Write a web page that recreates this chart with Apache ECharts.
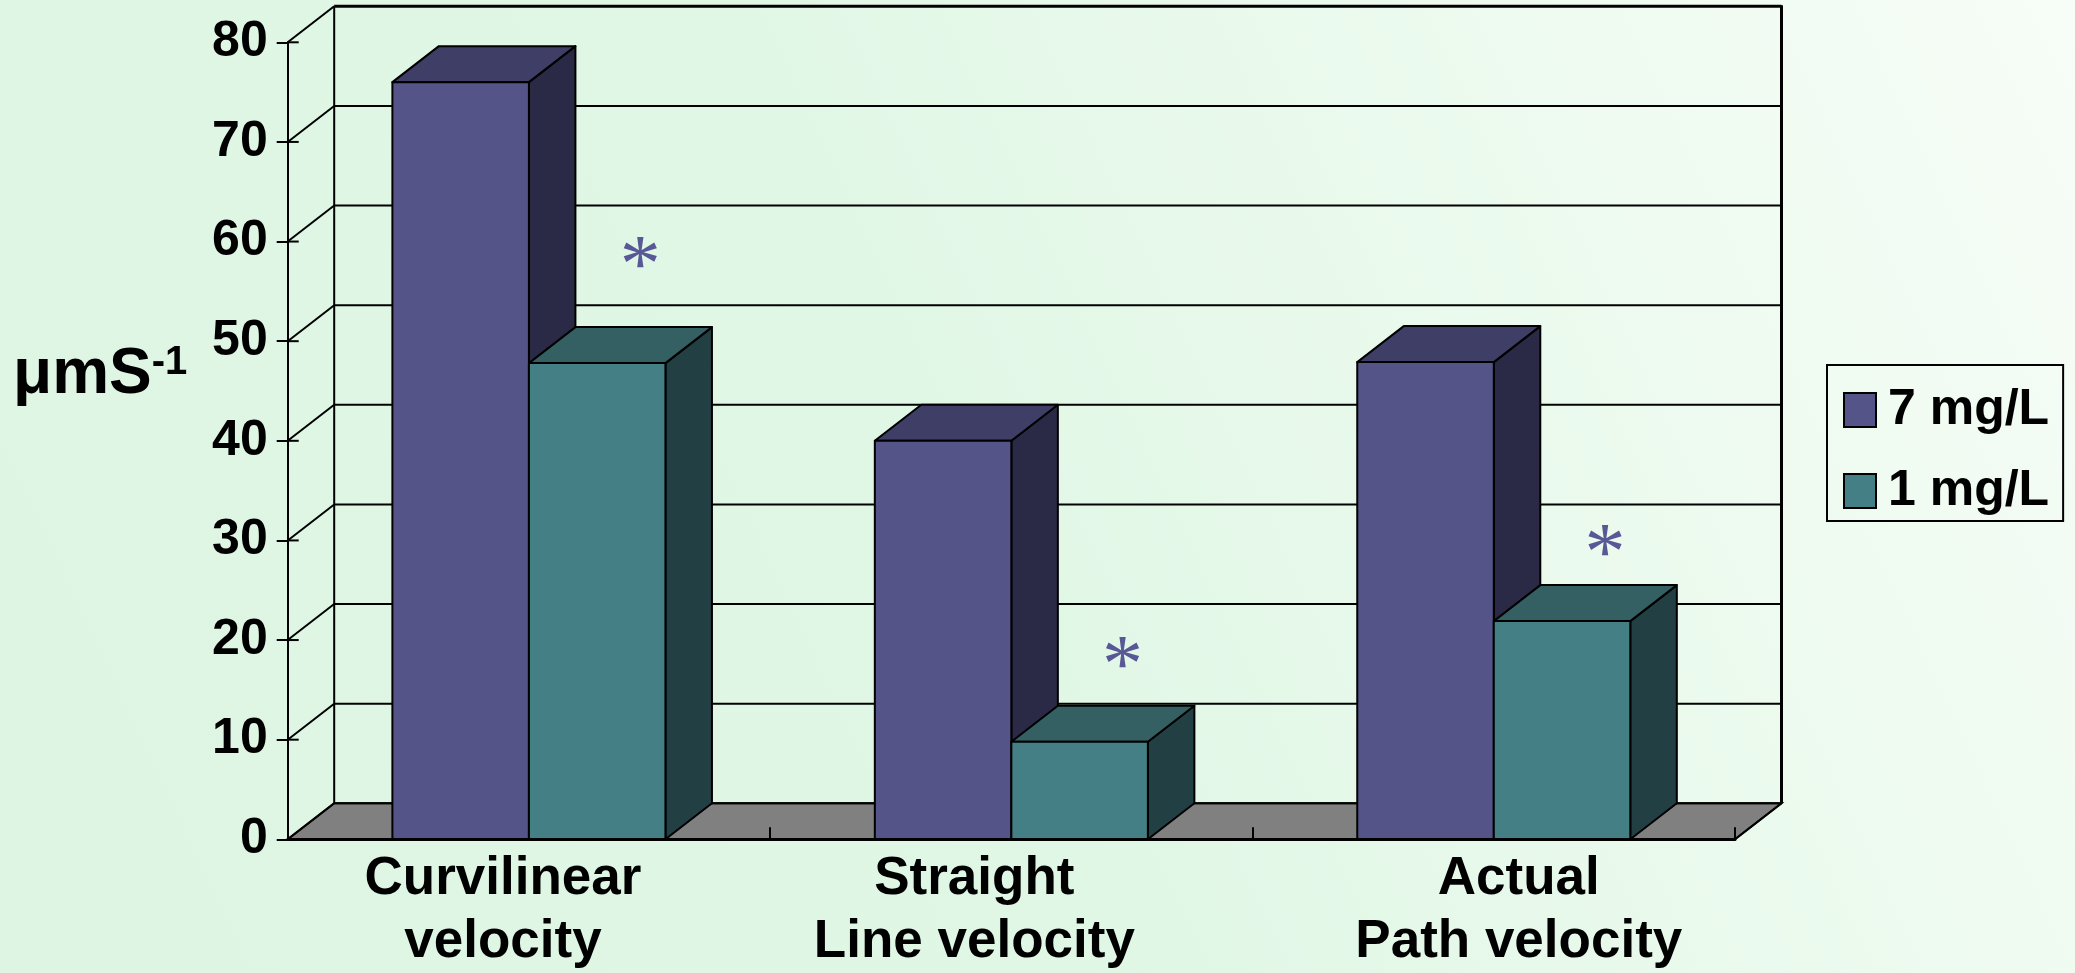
<!DOCTYPE html>
<html>
<head>
<meta charset="utf-8">
<title>Sperm velocity</title>
<script src="https://cdn.jsdelivr.net/npm/echarts@6/dist/echarts.min.js"></script>
<style>
  html, body { margin: 0; padding: 0; background: #e2f8e7; }
  #chart { width: 2075px; height: 973px; }
</style>
</head>
<body>
<div id="chart"></div>
<script>
// ---- data ----
const categories = ['Curvilinear\nvelocity', 'Straight\nLine velocity', 'Actual\nPath velocity'];
const seriesNames = ['7 mg/L', '1 mg/L'];
const values7mg = [76, 40, 47.9];
const values1mg = [47.8, 9.8, 21.9];
// significance markers (*) placed above the 1 mg/L columns
const starLevels = [58.8, 18.7, 29.9];
const yTicks = [0, 10, 20, 30, 40, 50, 60, 70, 80];

// ---- pseudo-3D geometry and styling ----
const DX = 46.5;          // depth offset to the right
const DY = -36;           // depth offset upwards
const BAR_RATIO = 0.283;  // column width as a share of the category band
const FONT = '"Liberation Sans", Arial, sans-serif';
const faces = [
  { front: '#545488', top: '#3e3e66', side: '#2a2a46' },
  { front: '#437f84', top: '#346064', side: '#224043' }
];
// horizontal nudge of each category caption (px)
const captionPad = [[0, 52, 0, 0], [0, 74, 0, 0], [0, 0, 0, 50]];

function line(x1, y1, x2, y2, w) {
  return { type: 'line', shape: { x1, y1, x2, y2 }, style: { stroke: '#000', lineWidth: w || 2 } };
}

// floor, back wall and left wall with their gridlines
function renderWalls(params, api) {
  const cs = params.coordSys;
  const xL = cs.x, xR = cs.x + cs.width;
  const y0 = api.coord([0, yTicks[0]])[1];
  const yTop = api.coord([0, yTicks[yTicks.length - 1]])[1];
  const children = [];
  children.push({
    type: 'polygon',
    shape: { points: [[xL, y0], [xR, y0], [xR + DX, y0 + DY], [xL + DX, y0 + DY]] },
    style: { fill: '#808080', stroke: '#000', lineWidth: 2 }
  });
  yTicks.forEach(function (v, i) {
    const y = api.coord([0, v])[1];
    const last = i === yTicks.length - 1;
    children.push(line(xL + DX, y + DY, xR + DX, y + DY, last ? 3 : 2));
    children.push(line(xL, y, xL + DX, y + DY, 2));
    children.push(line(xL, y, xL + 11, y, 2));
  });
  children.push(line(xL + DX, yTop + DY, xL + DX, y0 + DY, 2));
  children.push(line(xR + DX, yTop + DY - 1, xR + DX, y0 + DY, 3));
  children.push(line(xR, y0, xR + DX, y0 + DY, 2));
  return { type: 'group', children: children };
}

function makeBarRenderer(idx) {
  const c = faces[idx];
  return function (params, api) {
    const cat = api.value(0), val = api.value(1);
    const base = api.coord([cat, 0]);
    const top = api.coord([cat, val]);
    const w = api.size([1, 0])[0] * BAR_RATIO;
    const x0 = idx === 0 ? base[0] - w : base[0];
    const x1 = x0 + w;
    const yb = base[1], yt = top[1];
    const st = { stroke: '#000', lineWidth: 2, lineJoin: 'round' };
    return {
      type: 'group',
      children: [
        { type: 'polygon', shape: { points: [[x1, yt], [x1 + DX, yt + DY], [x1 + DX, yb + DY], [x1, yb]] },
          style: Object.assign({ fill: c.side }, st) },
        { type: 'polygon', shape: { points: [[x0, yt], [x0 + DX, yt + DY], [x1 + DX, yt + DY], [x1, yt]] },
          style: Object.assign({ fill: c.top }, st) },
        { type: 'rect', shape: { x: x0, y: yt, width: w, height: yb - yt },
          style: Object.assign({ fill: c.front }, st) }
      ]
    };
  };
}

function renderStar(params, api) {
  const p = api.coord([api.value(0), api.value(1)]);
  const w = api.size([1, 0])[0] * BAR_RATIO;
  return {
    type: 'text',
    x: p[0] + w / 2 + 43,
    y: p[1] + 16,
    style: {
      text: '*', fill: '#585896', fontSize: 82, fontFamily: '"Liberation Serif", "Times New Roman", serif',
      align: 'center', verticalAlign: 'middle'
    }
  };
}

const rich = {};
captionPad.forEach(function (pad, i) {
  rich['c' + i] = { fontSize: 53, fontWeight: 'bold', fontFamily: FONT, color: '#000', lineHeight: 63, padding: pad };
});

const chart = echarts.init(document.getElementById('chart'), null, { renderer: 'canvas' });
chart.setOption({
  animation: false,
  backgroundColor: {
    type: 'linear', x: 0, y: 1, x2: 1, y2: 0,
    colorStops: [
      { offset: 0, color: '#ddf5e2' },
      { offset: 0.45, color: '#e0f7e5' },
      { offset: 1, color: '#f7fdf7' }
    ]
  },
  title: {
    text: '{a|μmS}{b|-1}',
    left: 13, top: 343, padding: 0,
    textStyle: {
      rich: {
        a: { fontSize: 64, fontWeight: 'bold', fontFamily: FONT, color: '#000', lineHeight: 64, verticalAlign: 'middle' },
        b: { fontSize: 40, fontWeight: 'bold', fontFamily: FONT, color: '#000', lineHeight: 40, verticalAlign: 'top' }
      }
    }
  },
  legend: {
    orient: 'vertical',
    left: 1827, top: 365,
    padding: [20, 14, 5, 16],
    itemWidth: 32, itemHeight: 34, itemGap: 31,
    borderColor: '#000', borderWidth: 2,
    selectedMode: false,
    textStyle: { fontSize: 50, fontWeight: 'bold', fontFamily: FONT, color: '#000', lineHeight: 34, padding: [0, 0, 0, 7] },
    data: seriesNames.map(function (n, i) {
      return { name: n, icon: 'rect', itemStyle: { color: faces[i].front, borderColor: '#000', borderWidth: 2 } };
    })
  },
  grid: { left: 287.7, right: 340, top: 42.3, bottom: 133.7 },
  xAxis: {
    type: 'category',
    data: categories,
    z: 5,
    axisLine: { show: true, lineStyle: { color: '#000', width: 3 } },
    axisTick: { show: true, inside: true, length: 12, lineStyle: { color: '#000', width: 2 } },
    axisLabel: {
      margin: 9,
      interval: 0,
      formatter: function (value, index) {
        return value.split('\n').map(function (l) { return '{c' + index + '|' + l + '}'; }).join('\n');
      },
      rich: rich
    },
    splitLine: { show: false }
  },
  yAxis: {
    type: 'value',
    min: yTicks[0], max: yTicks[yTicks.length - 1], interval: yTicks[1] - yTicks[0],
    z: 5,
    axisLine: { show: true, lineStyle: { color: '#000', width: 2 } },
    axisTick: { show: true, length: 11, lineStyle: { color: '#000', width: 2 } },
    axisLabel: { margin: 20, fontSize: 50, fontWeight: 'bold', fontFamily: FONT, color: '#000', padding: [10, 0, 0, 0] },
    splitLine: { show: false }
  },
  series: [
    { type: 'custom', name: 'walls', z: 1, silent: true, renderItem: renderWalls, data: [[0, 0]], encode: { x: 0, y: 1 } },
    { type: 'custom', name: seriesNames[0], z: 2, renderItem: makeBarRenderer(0),
      itemStyle: { color: faces[0].front }, encode: { x: 0, y: 1 },
      data: values7mg.map(function (v, i) { return [i, v]; }) },
    { type: 'custom', name: seriesNames[1], z: 2, renderItem: makeBarRenderer(1),
      itemStyle: { color: faces[1].front }, encode: { x: 0, y: 1 },
      data: values1mg.map(function (v, i) { return [i, v]; }) },
    { type: 'custom', name: 'significance', z: 3, silent: true, renderItem: renderStar, encode: { x: 0, y: 1 },
      data: starLevels.map(function (v, i) { return [i, v]; }) }
  ]
});
</script>
</body>
</html>
